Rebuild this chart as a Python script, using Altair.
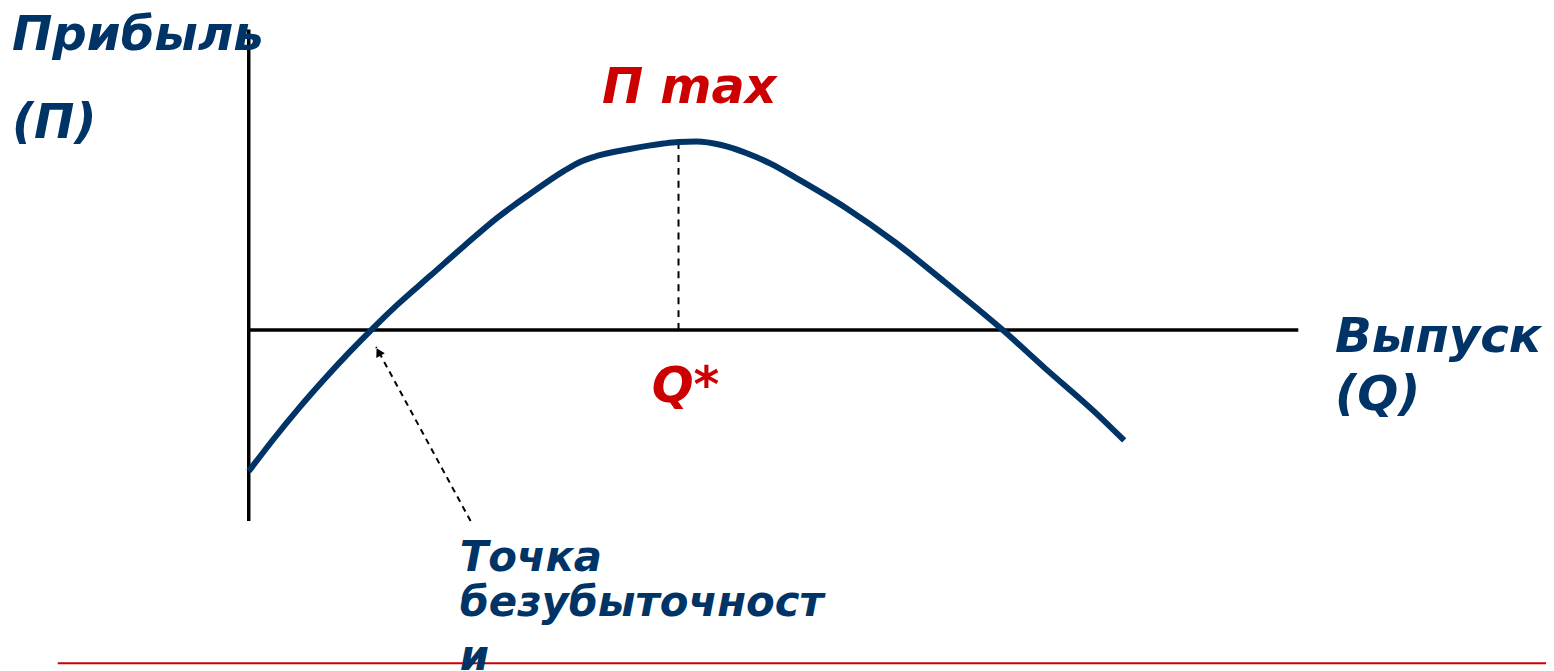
import altair as alt
import pandas as pd

# ---- data (Q = output, P = profit, arbitrary units) ----
curve_q = [0, 2.5, 5, 7.5, 10, 12.5, 15, 18.3, 21.7, 25, 28.3, 31.7, 33.3, 35, 38.3, 41.7, 43.2,
           45, 47.5, 50, 52.5, 55, 60, 65, 70, 75.8, 80, 85, 88]
curve_p = [-14.2, -10.95, -7.9, -5.05, -2.35, 0.2, 2.6, 5.5, 8.5, 11.3, 13.7, 16.0, 16.9, 17.5,
           18.2, 18.75, 18.9, 18.95, 18.6, 17.8, 16.7, 15.3, 12.3, 8.8, 4.8, 0, -3.8, -8.2, -11.1]

q_star = 43.2
p_max = 18.9
breakeven_q = 12.8
breakeven_p = -1.7
arrow_tail_q = 22.3
arrow_tail_p = -19.2

y_axis_top = 30.2
y_axis_bottom = -19.2
x_axis_end = 105.5

labels_blue = ["Прибыль", "(П)", "Выпуск", "(Q)"]
labels_blue_q = [-23.8, -23.8, 109.2, 109.2]
labels_blue_p = [28.2, 19.3, -2.2, -8.0]

labels_red = ["П max", "Q*"]
labels_red_q = [35.5, 40.5]
labels_red_p = [22.8, -7.2]

note_lines = ["Точка", "безубыточност", "и"]
note_q = [21.2, 21.2, 21.2]
note_p = [-24.2, -28.7, -34.2]

# ---- styling ----
BLUE = "#003466"
RED = "#CC0000"
FONT = "DejaVu Sans"

xs = alt.Scale(domain=[-24.2, 130.4], nice=False, zero=False)
ys = alt.Scale(domain=[-34.1, 32.2], nice=False, zero=False)

curve_df = pd.DataFrame({"q": curve_q, "p": curve_p, "i": range(len(curve_q))})

curve = alt.Chart(curve_df).mark_line(
    color=BLUE, strokeWidth=6, interpolate="monotone", strokeCap="butt"
).encode(
    x=alt.X("q:Q", scale=xs, axis=None),
    y=alt.Y("p:Q", scale=ys, axis=None),
    order="i:O",
)

yaxis = alt.Chart(pd.DataFrame({"q": [0], "p1": [y_axis_bottom], "p2": [y_axis_top]})).mark_rule(
    color="black", strokeWidth=3.5
).encode(
    x=alt.X("q:Q", scale=xs, axis=None),
    y=alt.Y("p1:Q", scale=ys, axis=None),
    y2="p2:Q",
)

xaxis = alt.Chart(pd.DataFrame({"q1": [0], "q2": [x_axis_end], "p": [0]})).mark_rule(
    color="black", strokeWidth=3.5
).encode(
    x=alt.X("q1:Q", scale=xs, axis=None),
    x2="q2:Q",
    y=alt.Y("p:Q", scale=ys, axis=None),
)

qline = alt.Chart(pd.DataFrame({"q": [q_star], "p1": [0], "p2": [p_max]})).mark_rule(
    color="black", strokeWidth=2, strokeDash=[7, 6]
).encode(
    x=alt.X("q:Q", scale=xs, axis=None),
    y=alt.Y("p1:Q", scale=ys, axis=None),
    y2="p2:Q",
)

arrow = alt.Chart(pd.DataFrame({
    "q1": [arrow_tail_q], "p1": [arrow_tail_p], "q2": [breakeven_q], "p2": [breakeven_p]
})).mark_rule(color="black", strokeWidth=2, strokeDash=[6, 5]).encode(
    x=alt.X("q1:Q", scale=xs, axis=None),
    y=alt.Y("p1:Q", scale=ys, axis=None),
    x2="q2:Q",
    y2="p2:Q",
)

head = alt.Chart(pd.DataFrame({"q": [breakeven_q + 0.25], "p": [breakeven_p - 0.5]})).mark_point(
    shape="triangle-up", filled=True, color="black", size=95, angle=331.5, opacity=1
).encode(
    x=alt.X("q:Q", scale=xs, axis=None),
    y=alt.Y("p:Q", scale=ys, axis=None),
)

redline = alt.Chart(pd.DataFrame({"q1": [-19.2], "q2": [130.4], "p": [-33.5]})).mark_rule(
    color=RED, strokeWidth=2
).encode(
    x=alt.X("q1:Q", scale=xs, axis=None),
    x2="q2:Q",
    y=alt.Y("p:Q", scale=ys, axis=None),
)

def text_layer(texts, qv, pv, color, size):
    df = pd.DataFrame({"t": texts, "q": qv, "p": pv})
    return alt.Chart(df).mark_text(
        align="left", baseline="alphabetic", font=FONT, fontSize=size,
        fontWeight="bold", fontStyle="italic", color=color
    ).encode(
        x=alt.X("q:Q", scale=xs, axis=None),
        y=alt.Y("p:Q", scale=ys, axis=None),
        text="t:N",
    )

t_blue = text_layer(labels_blue, labels_blue_q, labels_blue_p, BLUE, 48.5)
t_red = text_layer(labels_red, labels_red_q, labels_red_p, RED, 49.5)
t_note = text_layer(note_lines, note_q, note_p, BLUE, 42)

chart = alt.layer(
    redline, yaxis, xaxis, qline, arrow, head, curve, t_blue, t_red, t_note
).properties(
    width=1546, height=663, padding=0, autosize="none", background="white"
).configure_view(stroke=None, strokeWidth=0)

chart.save("out.html", embed_options={"renderer": "svg", "actions": False})
